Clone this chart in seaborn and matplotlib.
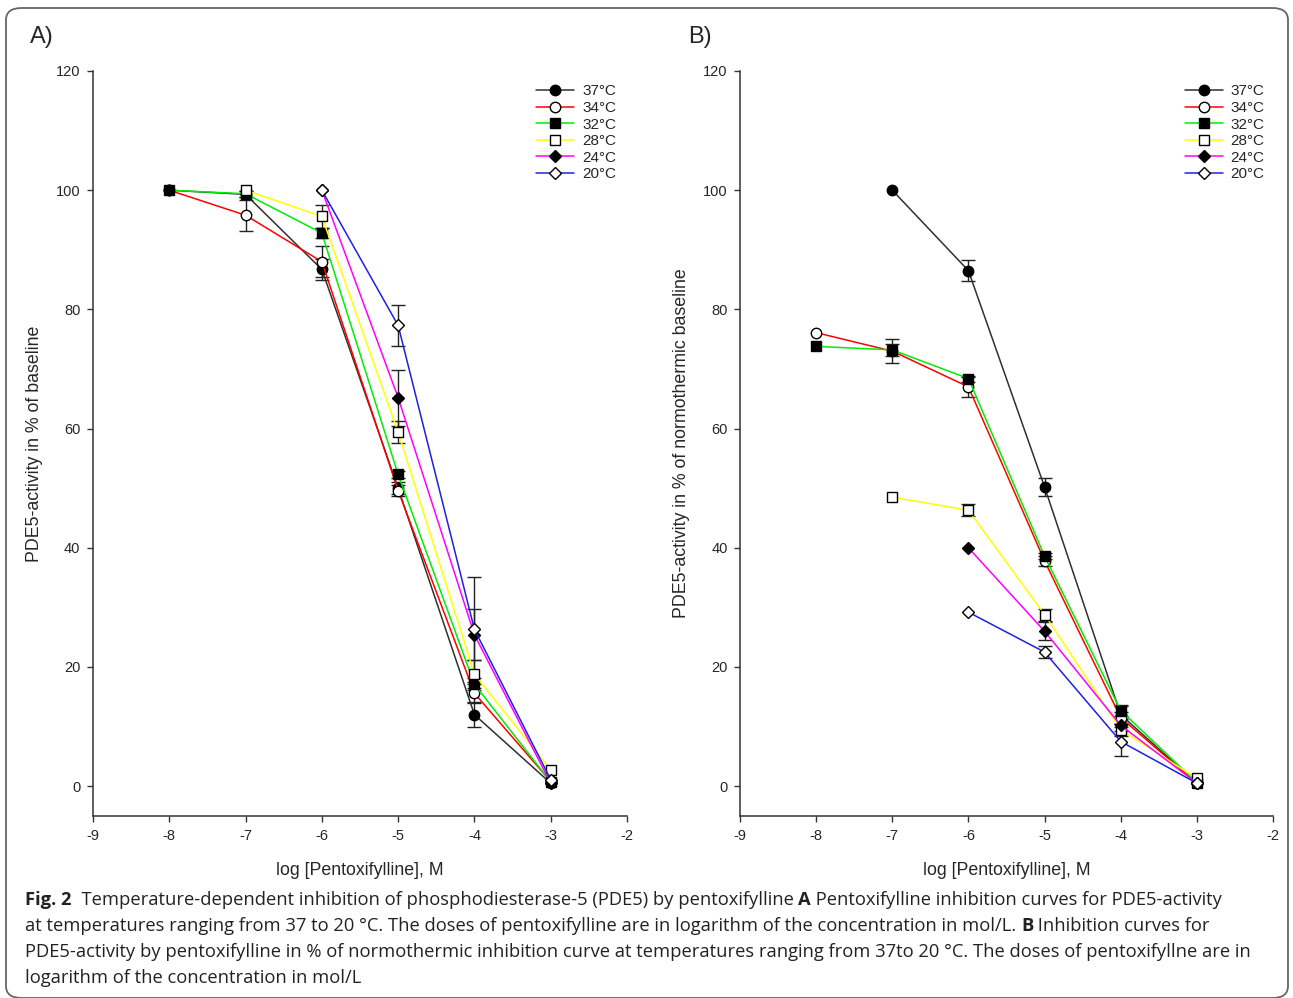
import matplotlib
matplotlib.use("Agg")
import matplotlib.pyplot as plt
import seaborn as sns
import numpy as np
from matplotlib.patches import FancyBboxPatch

# Panel A: PDE5-activity in % of baseline
a_x37 = [-8, -7, -6, -5, -4, -3]
a_y37 = [100, 99.3, 86.7, 50.0, 12.0, 0.5]
a_e37 = [0, 0.5, 1.7, 1.0, 2.0, 0.3]
a_x34 = [-8, -7, -6, -5, -4, -3]
a_y34 = [100, 95.8, 88.0, 49.6, 15.6, 0.8]
a_e34 = [0, 2.6, 2.6, 0.9, 1.5, 0.3]
a_x32 = [-8, -7, -6, -5, -4, -3]
a_y32 = [100, 99.4, 92.8, 52.3, 17.1, 0.7]
a_e32 = [0, 0.5, 0.8, 0.6, 1.0, 0.3]
a_x28 = [-7, -6, -5, -4, -3]
a_y28 = [100, 95.6, 59.4, 18.8, 2.7]
a_e28 = [0, 2.0, 1.8, 2.3, 0.3]
a_x24 = [-6, -5, -4, -3]
a_y24 = [100, 65.2, 25.4, 0.5]
a_e24 = [0, 4.7, 4.3, 0.3]
a_x20 = [-6, -5, -4, -3]
a_y20 = [100, 77.3, 26.3, 1.1]
a_e20 = [0, 3.5, 8.8, 0.3]

# Panel B: PDE5-activity in % of normothermic baseline
b_x37 = [-7, -6, -5, -4, -3]
b_y37 = [100, 86.5, 50.2, 12.0, 0.5]
b_e37 = [0, 1.8, 1.5, 1.5, 0.3]
b_x34 = [-8, -7, -6, -5, -4, -3]
b_y34 = [76.1, 73.0, 67.0, 37.8, 11.5, 0.5]
b_e34 = [0, 2.0, 1.7, 0.8, 1.0, 0.3]
b_x32 = [-8, -7, -6, -5, -4, -3]
b_y32 = [73.8, 73.2, 68.4, 38.6, 12.7, 0.6]
b_e32 = [0, 1.0, 0.5, 0.5, 1.0, 0.3]
b_x28 = [-7, -6, -5, -4, -3]
b_y28 = [48.5, 46.3, 28.8, 9.5, 1.3]
b_e28 = [0, 1.0, 1.0, 1.0, 0.3]
b_x24 = [-6, -5, -4, -3]
b_y24 = [40.0, 26.0, 10.2, 0.5]
b_e24 = [0, 1.5, 1.0, 0.3]
b_x20 = [-6, -5, -4, -3]
b_y20 = [29.2, 22.5, 7.5, 0.5]
b_e20 = [0, 1.0, 2.4, 0.3]

labels = ["37°C", "34°C", "32°C", "28°C", "24°C", "20°C"]
line_colors = ["#303030", "#ff0000", "#00ee00", "#ffff00", "#ff00ff", "#2020e0"]
markers = ["o", "o", "s", "s", "D", "D"]
fills = ["black", "white", "black", "white", "black", "white"]
msizes = [7.5, 7.5, 7, 7, 6.5, 6.5]

xticks = [-9, -8, -7, -6, -5, -4, -3, -2]
yticks = [0, 20, 40, 60, 80, 100, 120]

panel_a = [(a_x37, a_y37, a_e37), (a_x34, a_y34, a_e34), (a_x32, a_y32, a_e32),
           (a_x28, a_y28, a_e28), (a_x24, a_y24, a_e24), (a_x20, a_y20, a_e20)]
panel_b = [(b_x37, b_y37, b_e37), (b_x34, b_y34, b_e34), (b_x32, b_y32, b_e32),
           (b_x28, b_y28, b_e28), (b_x24, b_y24, b_e24), (b_x20, b_y20, b_e20)]

sns.set_theme(style="ticks")
plt.rcParams["font.family"] = ["Liberation Sans", "DejaVu Sans"]

fig = plt.figure(figsize=(12.93, 9.98), dpi=100)
ax_a = fig.add_axes([93 / 1293, 1 - 816 / 998, 534 / 1293, 745 / 998])
ax_b = fig.add_axes([740 / 1293, 1 - 816 / 998, 533 / 1293, 745 / 998])


def draw_panel(ax, series, ylabel, legend_x):
    for i, (xs, ys, es) in enumerate(series):
        xs = np.array(xs)
        ys = np.array(ys)
        es = np.array(es)
        sns.lineplot(x=xs, y=ys, ax=ax, color=line_colors[i], linewidth=1.1,
                     marker=markers[i], markersize=msizes[i],
                     markerfacecolor=fills[i], markeredgecolor="black",
                     markeredgewidth=1, label=labels[i], errorbar=None,
                     zorder=3 + i)
        keep = es > 0.4
        ax.errorbar(xs[keep], ys[keep], yerr=es[keep], fmt="none",
                    ecolor="#222222", elinewidth=1, capsize=5, capthick=1,
                    zorder=2.5)
    ax.set_xlim(-9, -2)
    ax.set_ylim(-5, 120)
    ax.set_xticks(xticks)
    ax.set_yticks(yticks)
    ax.set_xticklabels([str(t) for t in xticks])
    ax.set_yticklabels([str(t) for t in yticks])
    ax.spines["top"].set_visible(False)
    ax.spines["right"].set_visible(False)
    for s in ["left", "bottom"]:
        ax.spines[s].set_color("#333333")
        ax.spines[s].set_linewidth(1.1)
    ax.spines["left"].set_bounds(-5, 120)
    ax.tick_params(direction="out", length=4, width=1, color="#333333",
                   labelsize=10.5, pad=5)
    ax.set_xlabel("log [Pentoxifylline], M", fontsize=12.8, labelpad=14)
    ax.set_ylabel(ylabel, fontsize=12.8, labelpad=9)
    ax.set_facecolor("white")
    ax.legend(loc="upper left", bbox_to_anchor=(legend_x, 0.982), frameon=False,
              fontsize=11, handlelength=2.5, handletextpad=0.5,
              labelspacing=0.17, borderaxespad=0, borderpad=0)


draw_panel(ax_a, panel_a, "PDE5-activity in % of baseline", 0.83)
draw_panel(ax_b, panel_b, "PDE5-activity in % of normothermic baseline", 0.834)

fig.text(30 / 1293, 1 - 37 / 998, "A)", fontsize=17, va="center", ha="left")
fig.text(688 / 1293, 1 - 37 / 998, "B)", fontsize=17, va="center", ha="left")

# rounded frame around the figure
frame = FancyBboxPatch((6 / 1293, 0.0), 1282 / 1293, 1 - 8 / 998 - 0.0,
                       boxstyle="round,pad=0,rounding_size=0.012",
                       transform=fig.transFigure, fill=False,
                       edgecolor="#666666", linewidth=1.3)
fig.add_artist(frame)

# caption, with bold pieces chained after regular ones
cap_font = ["Open Sans", "DejaVu Sans"]
cap_size = 13.2
caption = [
    [("Fig. 2", True), ("  Temperature-dependent inhibition of phosphodiesterase-5 (PDE5) by pentoxifylline ", False),
     ("A", True), (" Pentoxifylline inhibition curves for PDE5-activity", False)],
    [("at temperatures ranging from 37 to 20 °C. The doses of pentoxifylline are in logarithm of the concentration in mol/L. ", False),
     ("B", True), (" Inhibition curves for", False)],
    [("PDE5-activity by pentoxifylline in % of normothermic inhibition curve at temperatures ranging from 37to 20 °C. The doses of pentoxifyllne are in", False)],
    [("logarithm of the concentration in mol/L", False)],
]
baselines = [905, 931, 957, 983]
for line, base in zip(caption, baselines):
    prev = None
    for txt, bold in line:
        weight = "bold" if bold else "normal"
        if prev is None:
            prev = fig.text(25 / 1293, 1 - base / 998, txt, fontsize=cap_size,
                            family=cap_font, weight=weight, va="baseline",
                            ha="left", color="#222222")
        else:
            prev = ax_a.annotate(txt, xy=(1, 0), xycoords=prev, va="bottom",
                                 ha="left", fontsize=cap_size, family=cap_font,
                                 weight=weight, color="#222222",
                                 annotation_clip=False)

fig.savefig("out.png", dpi=100, facecolor="white")
